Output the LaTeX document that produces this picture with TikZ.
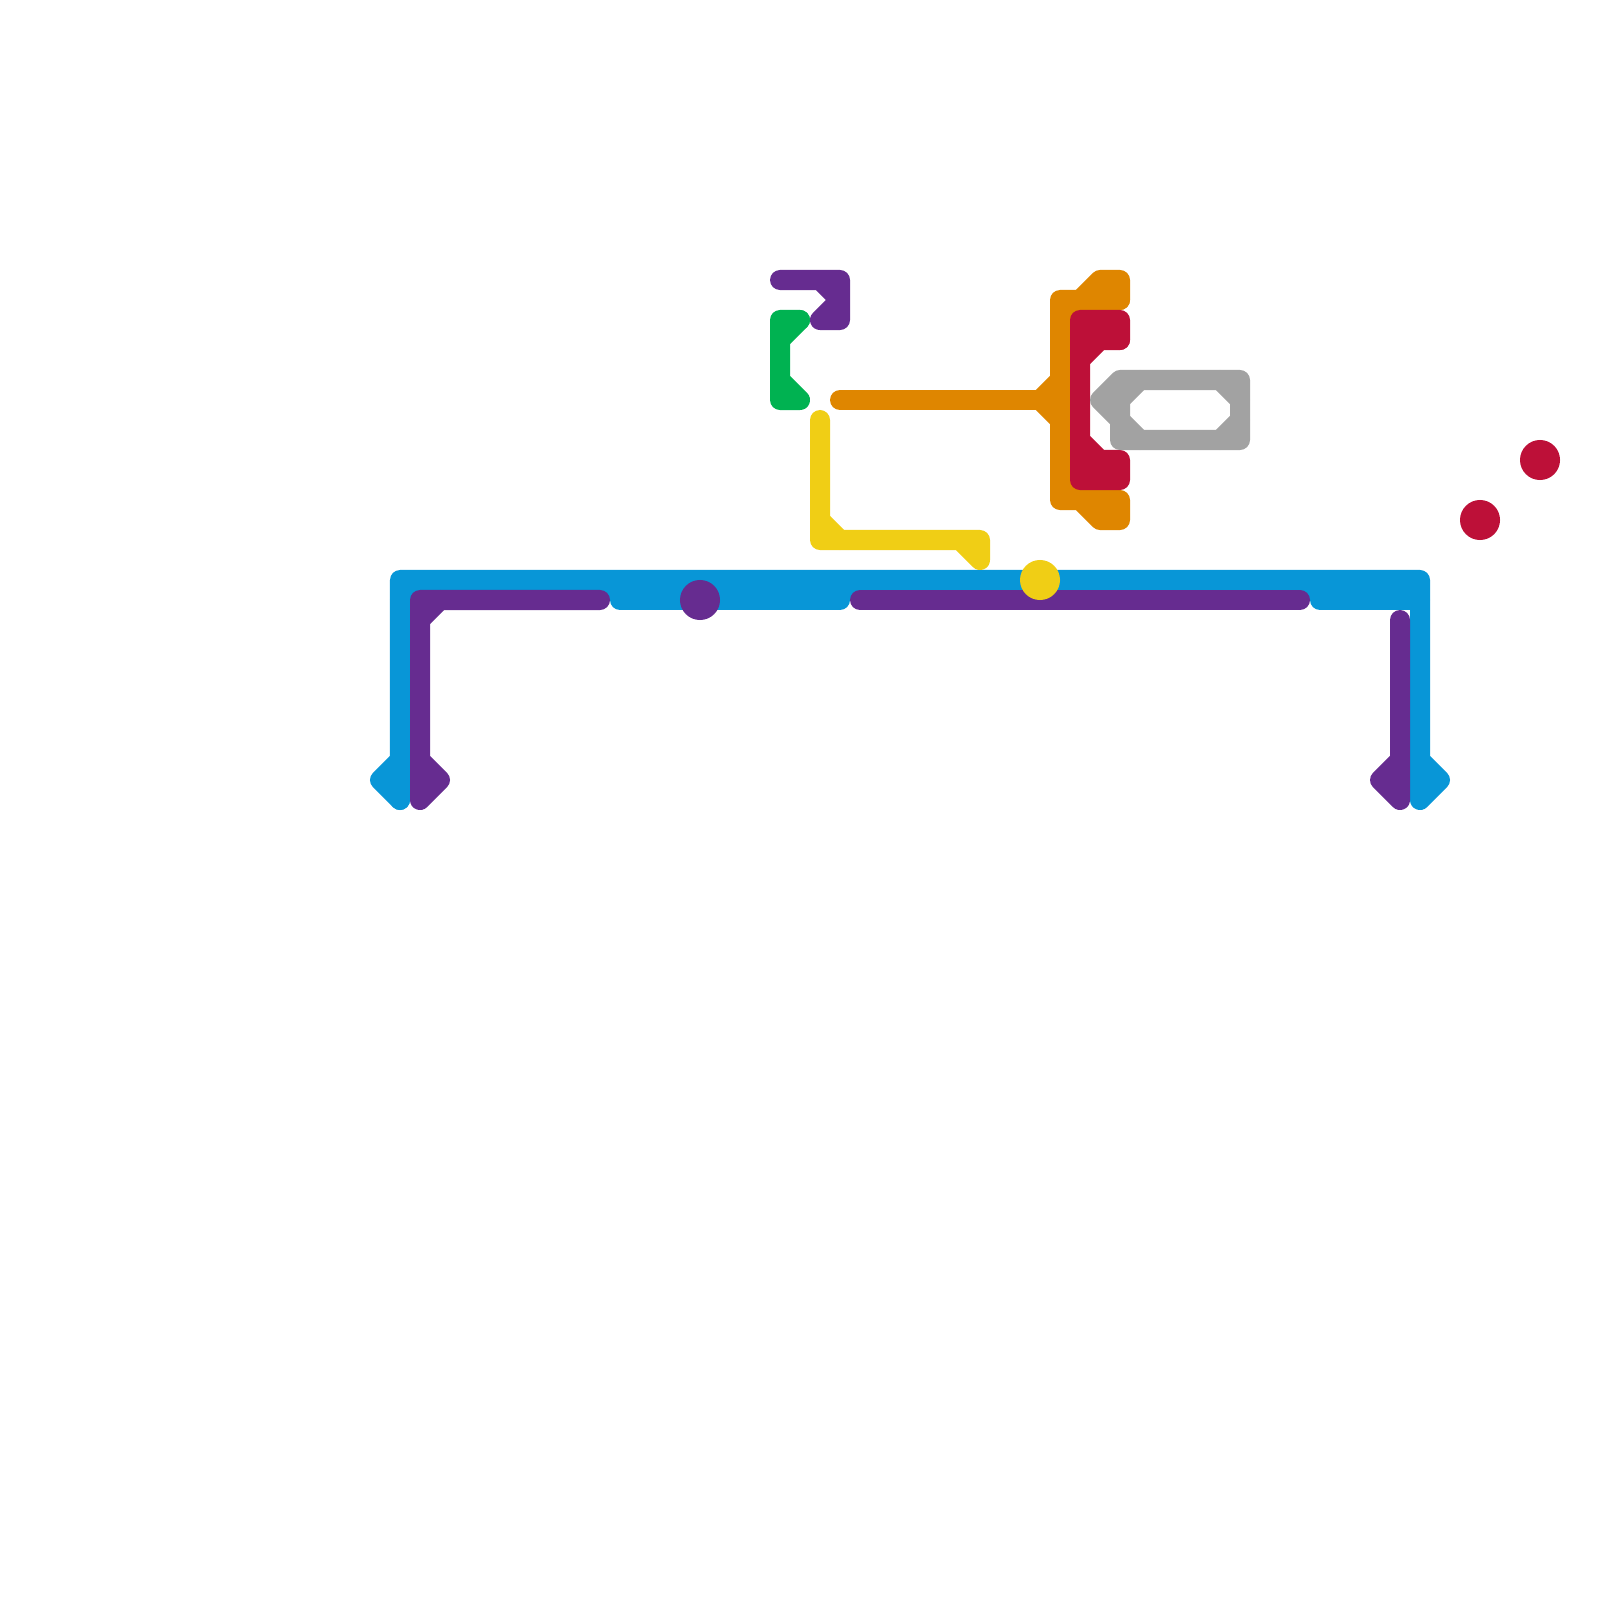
\documentclass[tikz,border=0pt]{standalone}
\definecolor{metroblue}{HTML}{0896D7}
\definecolor{metropurple}{HTML}{662C90}
\definecolor{metrogreen}{HTML}{00B251}
\definecolor{metroorange}{HTML}{DF8600}
\definecolor{metroyellow}{HTML}{F0CE15}
\definecolor{metrored}{HTML}{BD1038}
\definecolor{metrogray}{HTML}{A2A2A2}

\begin{document}
\begin{tikzpicture}[x=0.01cm, y=-0.01cm,
    route/.style={line width=0.2cm, line cap=round, line join=round},
    stop/.style={circle, minimum size=0.4cm, inner sep=0pt}]
    \useasboundingbox (0,0) rectangle (1600,1600);
    % blue
    \draw[route, metroblue] (400,800) -- (380,780) -- (400,760);
    \draw[route, metroblue] (400,800) -- (400,580) -- (1420,580) -- (1420,800) -- (1440,780) -- (1420,760);
    \draw[route, metroblue] (400,600) -- (420,600);
    \draw[route, metroblue] (620,600) -- (840,600);
    \draw[route, metroblue] (1320,600) -- (1420,600);
    \draw[metroblue, line width=0.12cm] (400,594) -- (1420,594);
    % purple
    \draw[route, metropurple] (600,600) -- (420,600) -- (420,800) -- (440,780) -- (420,760);
    \draw[route, metropurple] (420,620) -- (440,600);
    \draw[route, metropurple] (860,600) -- (1300,600);
    \draw[route, metropurple] (1400,620) -- (1400,800) -- (1380,780) -- (1400,760);
    \draw[route, metropurple] (780,280) -- (840,280) -- (840,320) -- (820,320) -- (840,300) -- (820,280);
    % green
    \draw[route, metrogreen] (800,320) -- (780,320) -- (780,400) -- (800,400) -- (780,380);
    \draw[route, metrogreen] (800,320) -- (780,340);
    % yellow
    \draw[route, metroyellow] (820,420) -- (820,540) -- (980,540) -- (980,560) -- (960,540);
    \draw[route, metroyellow] (820,520) -- (840,540);
    % orange
    \draw[route, metroorange] (840,400) -- (1060,400);
    \draw[route, metroorange] (1060,380) -- (1040,400) -- (1060,420);
    \draw[route, metroorange] (1120,300) -- (1060,300) -- (1060,500) -- (1120,500) -- (1120,520) -- (1100,520) -- (1080,500);
    \draw[route, metroorange] (1080,300) -- (1100,280) -- (1120,280) -- (1120,300);
    \draw[route, metroorange] (1080,300) -- (1080,500);
    % red
    \draw[route, metrored] (1120,340) -- (1120,320) -- (1080,320) -- (1080,480) -- (1120,480) -- (1120,460) -- (1100,460) -- (1080,440);
    \draw[route, metrored] (1120,340) -- (1100,340) -- (1080,360);
    \draw[route, metrored] (1080,340) -- (1100,340);
    \draw[route, metrored] (1080,460) -- (1100,460);
    % gray
    \draw[route, metrogray] (1120,420) -- (1100,400) -- (1120,380) -- (1240,380) -- (1240,440) -- (1120,440) -- (1120,380);
    \draw[route, metrogray] (1120,400) -- (1140,380);
    \draw[route, metrogray] (1120,420) -- (1140,440);
    \draw[route, metrogray] (1220,380) -- (1240,400);
    \draw[route, metrogray] (1240,420) -- (1220,440);
    % stations
    \node[stop, fill=metropurple] (stopPurple) at (700,600) {};
    \node[stop, fill=metroyellow] (stopYellow) at (1040,580) {};
    \node[stop, fill=metrored] (stopRedA) at (1480,520) {};
    \node[stop, fill=metrored] (stopRedB) at (1540,460) {};
\end{tikzpicture}
\end{document}
